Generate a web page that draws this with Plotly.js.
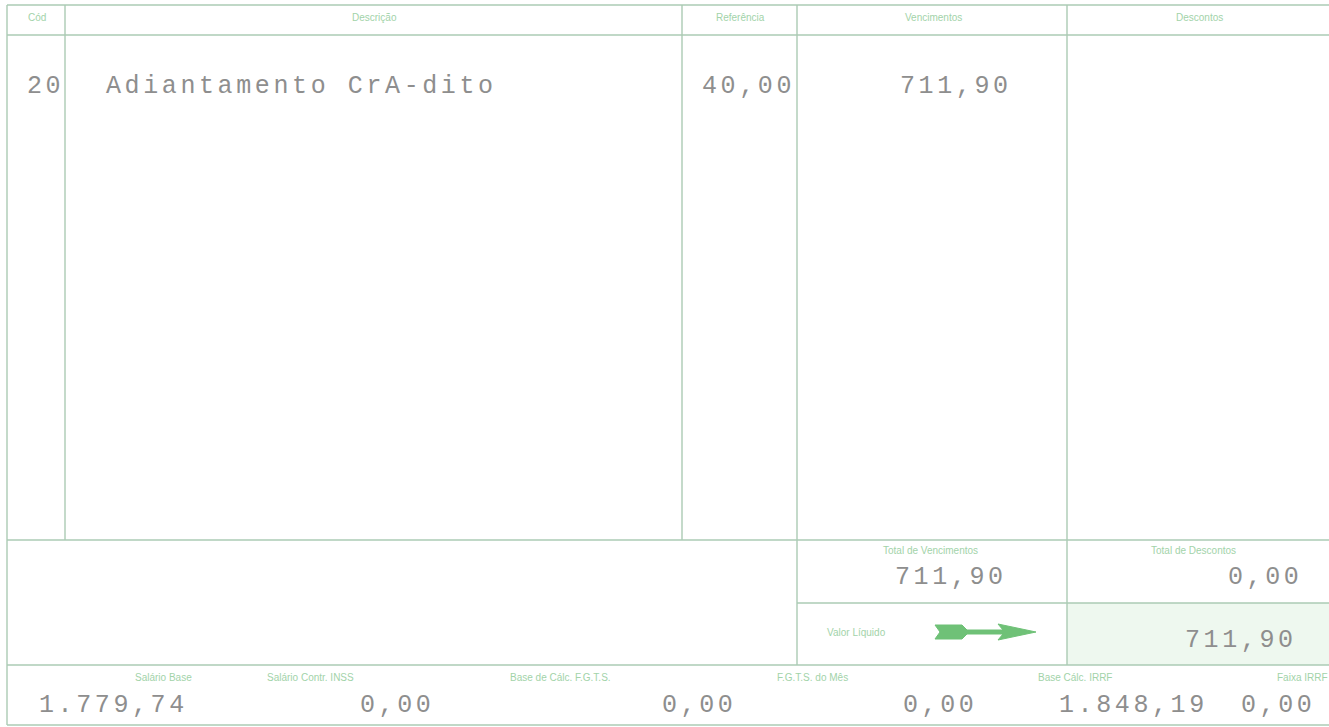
<!DOCTYPE html>
<html><head><meta charset="utf-8">
<script src="https://cdn.plot.ly/plotly-3.0.1.min.js"></script>
<style>
html,body{margin:0;padding:0;background:#fff;overflow:hidden}
#chart{width:1329px;height:727px}
text[style*="Liberation Mono"]{letter-spacing:3.6px}
</style></head><body><div id="chart"></div>
<script>
// ---- data (read from the payslip) ----
const headerLabels = ['Cód', 'Descrição', 'Referência', 'Vencimentos', 'Descontos'];
const itemCodes = ['20'];
const itemDescriptions = ['Adiantamento CrA-dito'];
const itemReferences = ['40,00'];
const itemEarnings = ['711,90'];
const itemDeductions = [''];
const totalLabels = ['Total de Vencimentos', 'Total de Descontos'];
const totalValues = ['711,90', '0,00'];
const netLabel = 'Valor Líquido';
const netValue = '711,90';
const baseLabels = ['Salário Base', 'Salário Contr. INSS', 'Base de Cálc. F.G.T.S.', 'F.G.T.S. do Mês', 'Base Cálc. IRRF', 'Faixa IRRF'];
const baseValues = ['1.779,74', '0,00', '0,00', '0,00', '1.848,19', '0,00'];

// ---- layout geometry (form grid) ----
const W = 1329, H = 727;
const colEdges = [7, 65, 682, 797, 1067, 1345];
const rowTop = 5, headerBottom = 35, bodyBottom = 540, totalsBottom = 603, netBottom = 665, formBottom = 725;
const lineColor = '#abcbb4';
const labelFont = {family: 'Liberation Sans, Arial, sans-serif', size: 10, color: '#a2d3a9'};
const valueFont = {family: 'Liberation Mono, monospace', size: 25, color: '#8e8e8e'};

const shapes = [];
function line(x0, y0, x1, y1) {
  shapes.push({type: 'line', xref: 'x', yref: 'y', x0, y0, x1, y1, line: {color: lineColor, width: 1.4}});
}
// fill of net value cell
shapes.push({type: 'rect', xref: 'x', yref: 'y', x0: colEdges[4], x1: colEdges[5], y0: totalsBottom, y1: netBottom,
  fillcolor: '#eef8ef', line: {width: 0}, layer: 'below'});
// outer frame and grid
line(colEdges[0], rowTop, colEdges[5], rowTop);
line(colEdges[0], rowTop, colEdges[0], formBottom);
line(colEdges[0], formBottom, colEdges[5], formBottom);
line(colEdges[0], headerBottom, colEdges[5], headerBottom);
line(colEdges[1], rowTop, colEdges[1], bodyBottom);
line(colEdges[2], rowTop, colEdges[2], bodyBottom);
line(colEdges[3], rowTop, colEdges[3], netBottom);
line(colEdges[4], rowTop, colEdges[4], netBottom);
line(colEdges[0], bodyBottom, colEdges[5], bodyBottom);
line(colEdges[3], totalsBottom, colEdges[5], totalsBottom);
line(colEdges[0], netBottom, colEdges[5], netBottom);
// arrow next to "Valor Líquido"
shapes.push({type: 'path', xref: 'x', yref: 'y',
  path: 'M 935 625 L 962 625 L 967 630 L 1003 630 L 998 624 L 1036 632 L 998 640 L 1003 634 L 967 634 L 962 639 L 935 639 L 940 632 Z',
  fillcolor: '#6fc177', line: {color: '#6fc177', width: 1}});

const ann = [];
function txt(text, x, y, font, xanchor) {
  if (!text) return;
  ann.push({text, x, y, xref: 'x', yref: 'y', showarrow: false, font, xanchor: xanchor || 'center', yanchor: 'middle'});
}
// header labels centered in columns
headerLabels.forEach((t, i) => {
  const right = i === 4 ? W : colEdges[i + 1];
  txt(t, (colEdges[i] + right) / 2 + 1, 17, labelFont, 'center');
});
// item rows
const rowY0 = 86, rowStep = 30;
itemCodes.forEach((c, i) => {
  const y = rowY0 + i * rowStep;
  txt(c, 66, y, valueFont, 'right');
  txt(itemDescriptions[i], 104, y, valueFont, 'left');
  txt(itemReferences[i], 797, y, valueFont, 'right');
  txt(itemEarnings[i], 1014, y, valueFont, 'right');
  txt(itemDeductions[i], 1305, y, valueFont, 'right');
});
// totals
txt(totalLabels[0], 930, 550, labelFont, 'center');
txt(totalLabels[1], 1193, 550, labelFont, 'center');
txt(totalValues[0], 1009, 577, valueFont, 'right');
txt(totalValues[1], 1304, 577, valueFont, 'right');
// net value
txt(netLabel, 856, 632, labelFont, 'center');
txt(netValue, 1299, 640, valueFont, 'right');
// bases
const baseLabelX = [163, 310, 560, 812, 1075, 1302];
const baseValueRight = [190, 436, 738, 979, 1210, 1317];
baseLabels.forEach((t, i) => {
  txt(t, baseLabelX[i], 677, labelFont, 'center');
  txt(baseValues[i], baseValueRight[i], 705, valueFont, 'right');
});

const layout = {
  width: W, height: H,
  margin: {l: 0, r: 0, t: 0, b: 0, pad: 0},
  paper_bgcolor: '#ffffff', plot_bgcolor: '#ffffff',
  showlegend: false,
  xaxis: {range: [0, W], visible: false, fixedrange: true},
  yaxis: {range: [H, 0], visible: false, fixedrange: true},
  shapes, annotations: ann
};
Plotly.newPlot('chart', [{x: [], y: [], type: 'scatter', mode: 'markers', hoverinfo: 'skip'}], layout, {staticPlot: true, displayModeBar: false});
</script></body></html>
